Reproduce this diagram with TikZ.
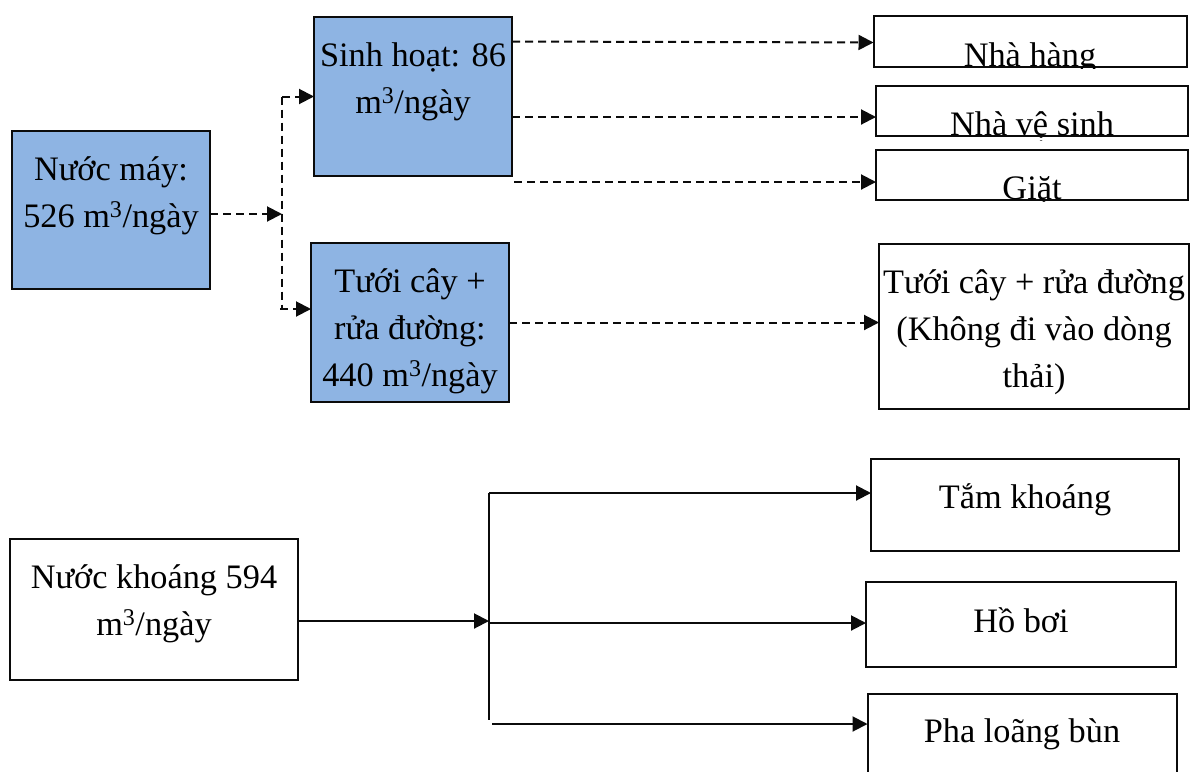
\documentclass[tikz,border=0pt]{standalone}
\usepackage{fontspec}
\setmainfont{Liberation Serif}
\usepackage{xcolor}
\usepackage{tikz}
\usetikzlibrary{arrows.meta,positioning,calc}
\definecolor{figblue}{HTML}{8EB4E3}
\definecolor{figink}{HTML}{0B0B0B}

\begin{document}
\begin{tikzpicture}[x=1pt, y=-1pt, font=\fontsize{34.3}{47}\selectfont,
  cell/.style={draw=figink, line width=2pt, align=center, inner sep=0pt, outer sep=0pt,
               anchor=north, text height=49pt},
  bluecell/.style={cell, fill=figblue},
  flow/.style={draw=figink, line width=2pt, dash pattern=on 8pt off 5pt},
  flowtip/.style={flow, -{Triangle[length=15pt,width=15pt]}},
  feed/.style={draw=figink, line width=2pt},
  feedtip/.style={feed, -{Triangle[length=15pt,width=15pt]}}]
\useasboundingbox (0,0) rectangle (1190,771);
\clip (0,0) rectangle (1190,771);
% tap water side
\node[bluecell, minimum width=198pt, text height=96pt, text depth=62pt] (tap)  at (111,131) {Nước máy:\\526 m\textsuperscript{3}/ngày};
\node[bluecell, minimum width=198pt, text height=96pt, text depth=63pt] (sinh) at (413,17)  {Sinh hoạt: 86\\m\textsuperscript{3}/ngày};
\node[bluecell, minimum width=198pt, text height=143pt, text depth=16pt] (tuoi) at (410,243) {Tưới cây +\\rửa đường:\\440 m\textsuperscript{3}/ngày};
\begin{scope}
\clip (860,0) rectangle (1190,68) (860,80) rectangle (1190,137) (860,140) rectangle (1190,201);
\node[cell, minimum width=313pt, text height=50pt, text depth=1pt] (nhahang) at (1030,16) {Nhà hàng};
\node[cell, minimum width=312pt, text height=49pt, text depth=1pt] (vesinh) at (1032,86) {Nhà vệ sinh};
\node[cell, minimum width=312pt, text height=49pt, text depth=1pt] (giat) at (1032,150) {Giặt};
\end{scope}
\node[cell, minimum width=310pt, text height=143pt, text depth=22pt] (road) at (1034,244) {Tưới cây + rửa đường\\(Không đi vào dòng\\thải)};
% mineral water side
\node[cell, minimum width=288pt, text height=96pt, text depth=45pt] (khoang) at (154,539) {Nước khoáng 594\\m\textsuperscript{3}/ngày};
\node[cell, minimum width=308pt, text depth=43pt] (tam) at (1025,459) {Tắm khoáng};
\node[cell, minimum width=310pt, text height=50pt, text depth=35pt] (hoboi) at (1021,582) {Hồ bơi};
\node[cell, minimum width=309pt, text height=48pt, text depth=60pt] (pha) at (1022,694) {Pha loãng bùn};
% junctions
\coordinate (jtop) at (282,214);
\coordinate (jbot) at (489,621);
\coordinate (jtuoi) at ([yshift=-66pt]jtop |- tuoi.north);
\coordinate (jtam) at ([yshift=12pt]jbot |- tam.west);
\coordinate (jend) at ([yshift=-26pt]jbot |- pha.north);
% dashed flows
\draw[flowtip] (tap.east |- jtop) -- (jtop);
\draw[flow] (jtop |- sinh.west) -- (jtuoi);
\draw[flowtip] (jtop |- sinh.west) -- (sinh.west);
\draw[flowtip] ([xshift=-2pt]jtuoi) -- (jtuoi -| tuoi.west);
\draw[flowtip] (sinh.east |- nhahang.west) -- ([yshift=-1pt]nhahang.west);
\draw[flowtip] ([yshift=-6pt]sinh.east |- vesinh.west) -- ([yshift=-6pt]vesinh.west);
\draw[flowtip] ([xshift=2pt,yshift=-7pt]sinh.east |- giat.west) -- ([yshift=-7pt]giat.west);
\draw[flowtip] (tuoi.east) -- (tuoi.east -| road.west);
% solid flows
\draw[feedtip] (khoang.east |- jbot) -- (jbot);
\draw[feed] (jtam) -- (jend);
\draw[feedtip] (jtam) -- (jtam -| tam.west);
\draw[feedtip] ([yshift=-2pt]jbot) -- ([yshift=-2pt]jbot -| hoboi.west);
\draw[feedtip] ([xshift=3pt,yshift=-4pt]jend) -- ([yshift=-4pt]jend -| pha.west);
\end{tikzpicture}
\end{document}
